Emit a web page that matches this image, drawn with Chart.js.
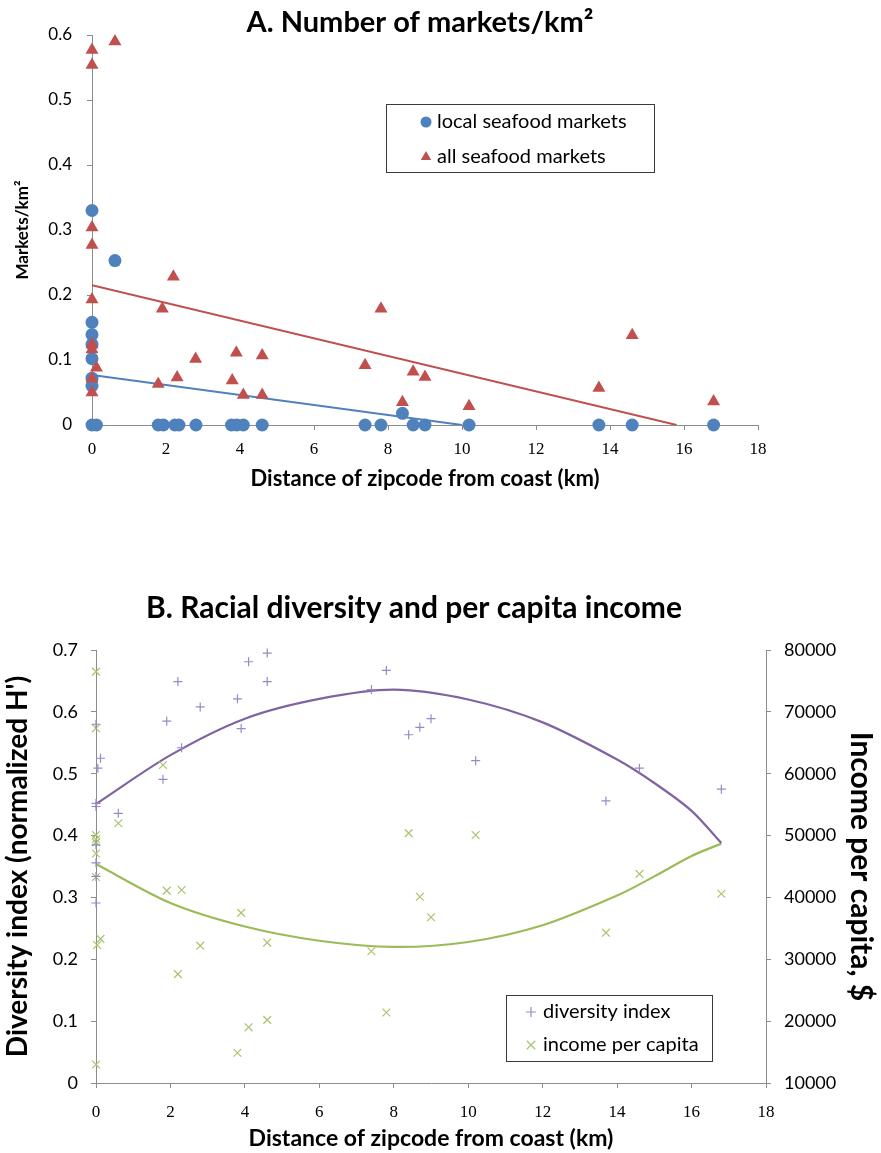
<!DOCTYPE html>
<html>
<head>
<meta charset="utf-8">
<script src="https://cdn.jsdelivr.net/npm/chart.js@4.4.1/dist/chart.umd.min.js"></script>
<style>
  html, body { margin: 0; padding: 0; background: #fff; }
  #wrapA { position: absolute; left: 0; top: 0; }
  #wrapB { position: absolute; left: 0; top: 580px; }
</style>
</head>
<body>
<div id="wrapA"><canvas id="chartA" width="881" height="500"></canvas></div>
<div id="wrapB"><canvas id="chartB" width="881" height="573"></canvas></div>
<script>
// ---- A. markets per km2 ----
const localDist = [0, 0, 0, 0, 0, 0, 0, 0, 0.12, 0.62, 1.79, 1.93, 2.24, 2.35, 2.81, 3.77, 3.91, 4.09, 4.6, 7.38, 7.81, 8.39, 8.68, 9.0, 10.19, 13.7, 14.6, 16.8];
const localMarkets = [0.33, 0.158, 0.139, 0.124, 0.102, 0.072, 0.06, 0, 0, 0.253, 0, 0, 0, 0, 0, 0, 0, 0, 0, 0, 0, 0.018, 0, 0, 0, 0, 0, 0];
const allDist = [0, 0, 0, 0, 0, 0, 0, 0, 0, 0.12, 0.62, 1.79, 1.9, 2.2, 2.3, 2.8, 3.79, 3.9, 4.09, 4.6, 4.6, 7.38, 7.81, 8.39, 8.68, 9.0, 10.19, 13.7, 14.6, 16.8];
const allMarkets = [0.577, 0.554, 0.304, 0.277, 0.193, 0.124, 0.116, 0.071, 0.05, 0.088, 0.59, 0.063, 0.179, 0.228, 0.073, 0.1015, 0.0685, 0.111, 0.046, 0.107, 0.046, 0.092, 0.179, 0.035, 0.082, 0.074, 0.029, 0.057, 0.138, 0.036];
// trend lines (end points)
const trendLocalDist = [0, 10.0];
const trendLocal = [0.077, 0];
const trendAllDist = [0, 15.8];
const trendAll = [0.215, 0];

// ---- B. diversity and income ----
const divDist = [0, 0.05, 0.12, 0, 0, 0, 0, 0, 0, 0.6, 1.8, 1.9, 2.2, 2.3, 2.8, 3.8, 3.9, 4.1, 4.6, 4.6, 7.4, 7.8, 8.4, 8.7, 9.0, 10.2, 13.7, 14.6, 16.8];
const divIndex = [0.58, 0.509, 0.525, 0.452, 0.447, 0.385, 0.356, 0.334, 0.291, 0.436, 0.491, 0.585, 0.649, 0.542, 0.608, 0.621, 0.573, 0.681, 0.695, 0.649, 0.636, 0.667, 0.563, 0.575, 0.589, 0.521, 0.456, 0.509, 0.475];
const incDist = [0, 0, 0, 0, 0, 0, 0, 0.12, 0.03, 0, 0.6, 1.8, 1.9, 2.2, 2.3, 2.8, 3.8, 3.9, 4.1, 4.6, 4.6, 7.4, 7.8, 8.4, 8.7, 9.0, 10.2, 13.7, 14.6, 16.8];
const income = [76500, 67350, 50100, 49400, 48900, 47100, 43300, 33300, 32300, 13000, 52000, 61400, 41100, 27600, 41200, 32200, 14900, 37500, 19000, 20200, 32700, 31300, 21400, 50400, 40100, 36800, 50100, 34300, 43800, 40600];
// trend curves at several distances
const trendDist = [0, 2, 4, 6, 8, 10, 12, 14, 15, 16, 16.8];
const divTrend = [0.451, 0.530, 0.589, 0.621, 0.636, 0.620, 0.583, 0.523, 0.485, 0.440, 0.388];
const incTrend = [45400, 39100, 35300, 33000, 32000, 32800, 35500, 40300, 43400, 46700, 48700];

const blue = '#4F81BD', red = '#C0504D';
const purple = '#8064A2', purpleMark = '#9A88C6';
const green = '#9BBB59', greenMark = '#A8C46E';
const axisGrey = '#8C8C8C';
const sans = 'Lato, "Liberation Sans", sans-serif';
const serif = '"Liberation Serif", serif';

const pts = (xs, ys) => xs.map((x, i) => ({ x: x, y: ys[i] }));

// chart title + boxed legend, drawn after the chart
const overlay = {
  id: 'overlay',
  afterDraw(chart, args, o) {
    const ctx = chart.ctx;
    ctx.save();
    ctx.fillStyle = '#000';
    ctx.font = 'bold ' + o.titleSize + 'px ' + sans;
    ctx.textAlign = 'center';
    ctx.textBaseline = 'middle';
    ctx.fillText(o.title, o.titleX, o.titleY);
    ctx.strokeStyle = '#3a3a3a';
    ctx.lineWidth = 1;
    ctx.strokeRect(o.box[0] + 0.5, o.box[1] + 0.5, o.box[2], o.box[3]);
    ctx.font = '20px ' + sans;
    ctx.textAlign = 'left';
    o.items.forEach(it => {
      const ds = chart.data.datasets[it.ds];
      ctx.fillStyle = ds.backgroundColor;
      ctx.strokeStyle = ds.borderColor;
      ctx.lineWidth = ds.borderWidth;
      Chart.helpers.drawPoint(ctx, { pointStyle: ds.pointStyle, radius: it.r, rotation: 0, borderWidth: ds.borderWidth }, it.mx, it.y);
      ctx.fillStyle = '#000';
      ctx.fillText(ds.label, it.tx, it.y);
    });
    ctx.restore();
  }
};

function axis(extra) {
  return Object.assign({
    type: 'linear',
    grid: { drawOnChartArea: false, drawTicks: true, tickLength: 5, color: axisGrey },
    border: { color: axisGrey, width: 1 }
  }, extra);
}

new Chart(document.getElementById('chartA'), {
  type: 'scatter',
  data: {
    datasets: [
      { label: 'local seafood markets', data: pts(localDist, localMarkets), pointStyle: 'circle', pointRadius: 6.5,
        backgroundColor: blue, borderColor: blue, borderWidth: 0, order: 1, clip: false },
      { label: 'all seafood markets', data: pts(allDist, allMarkets), pointStyle: 'triangle', pointRadius: 7.5,
        backgroundColor: red, borderColor: red, borderWidth: 0, order: 0, clip: false },
      { label: 'trend local', data: pts(trendLocalDist, trendLocal), showLine: true, pointRadius: 0,
        borderColor: blue, backgroundColor: blue, borderWidth: 2, order: 2 },
      { label: 'trend all', data: pts(trendAllDist, trendAll), showLine: true, pointRadius: 0,
        borderColor: red, backgroundColor: red, borderWidth: 2, order: 3 }
    ]
  },
  options: {
    responsive: false,
    animation: false,
    devicePixelRatio: 1,
    layout: { padding: { top: 35, right: 123, left: 0, bottom: 0 } },
    plugins: {
      legend: { display: false },
      tooltip: { enabled: false },
      overlay: {
        title: 'A. Number of markets/km\u00B2', titleX: 420, titleY: 23, titleSize: 29,
        box: [386, 104, 268, 68],
        items: [
          { ds: 0, r: 5.5, mx: 426, tx: 437, y: 122 },
          { ds: 1, r: 6, mx: 426, tx: 437, y: 157 }
        ]
      }
    },
    scales: {
      x: axis({
        min: 0, max: 18,
        afterFit: s => { s.height = 75; },
        ticks: { stepSize: 2, color: '#000', padding: 9, maxRotation: 0, font: { family: serif, size: 17 } },
        title: { display: true, text: 'Distance of zipcode from coast (km)', color: '#000',
                 font: { family: sans, weight: 'bold', size: 22 }, padding: { top: 0, bottom: 8 } }
      }),
      y: axis({
        min: 0, max: 0.6,
        afterFit: s => { s.width = 92; },
        ticks: { stepSize: 0.1, color: '#000', padding: 15, font: { family: sans, size: 17 },
                 callback: v => v === 0 ? '0' : v.toFixed(1) },
        title: { display: true, text: 'Markets/km\u00B2', color: '#000',
                 font: { family: sans, weight: 'bold', size: 17 }, padding: { top: 12, bottom: 0 } }
      })
    }
  },
  plugins: [overlay]
});

new Chart(document.getElementById('chartB'), {
  type: 'scatter',
  data: {
    datasets: [
      { label: 'diversity index', data: pts(divDist, divIndex), yAxisID: 'y', pointStyle: 'cross', pointRadius: 4.5,
        backgroundColor: purpleMark, borderColor: purpleMark, borderWidth: 1.2, order: 0, clip: false },
      { label: 'income per capita', data: pts(incDist, income), yAxisID: 'y2', pointStyle: 'crossRot', pointRadius: 5.5,
        backgroundColor: greenMark, borderColor: greenMark, borderWidth: 1.2, order: 1, clip: false },
      { label: 'trend diversity', data: pts(trendDist, divTrend), yAxisID: 'y', showLine: true, pointRadius: 0,
        tension: 0.3, borderColor: purple, backgroundColor: purple, borderWidth: 2.2, order: 2 },
      { label: 'trend income', data: pts(trendDist, incTrend), yAxisID: 'y2', showLine: true, pointRadius: 0,
        tension: 0.3, borderColor: green, backgroundColor: green, borderWidth: 2.2, order: 3 }
    ]
  },
  options: {
    responsive: false,
    animation: false,
    devicePixelRatio: 1,
    layout: { padding: { top: 70, right: 0, left: 0, bottom: 0 } },
    plugins: {
      legend: { display: false },
      tooltip: { enabled: false },
      overlay: {
        title: 'B. Racial diversity and per capita income', titleX: 414, titleY: 28, titleSize: 30,
        box: [506, 415, 206, 66],
        items: [
          { ds: 0, r: 5, mx: 531, tx: 543, y: 432 },
          { ds: 1, r: 6, mx: 531, tx: 543, y: 465 }
        ]
      }
    },
    scales: {
      x: axis({
        min: 0, max: 18,
        afterFit: s => { s.height = 70; },
        ticks: { stepSize: 2, color: '#000', padding: 14, maxRotation: 0, font: { family: serif, size: 17 } },
        title: { display: true, text: 'Distance of zipcode from coast (km)', color: '#000',
                 font: { family: sans, weight: 'bold', size: 23 }, padding: { top: 0, bottom: 1 } }
      }),
      y: axis({
        position: 'left',
        min: 0, max: 0.7,
        afterFit: s => { s.width = 96; },
        ticks: { stepSize: 0.1, color: '#000', padding: 13, font: { family: sans, size: 18 },
                 callback: v => v === 0 ? '0' : v.toFixed(1) },
        title: { display: true, text: "Diversity index (normalized H')", color: '#000',
                 font: { family: sans, weight: 'bold', size: 28 }, padding: { top: 1, bottom: 0 } }
      }),
      y2: axis({
        position: 'right',
        min: 10000, max: 80000,
        afterFit: s => { s.width = 115; },
        ticks: { stepSize: 10000, color: '#000', padding: 13, font: { family: sans, size: 18 },
                 callback: v => String(v) },
        title: { display: true, text: 'Income per capita, $', color: '#000',
                 font: { family: sans, weight: 'bold', size: 30 }, padding: { top: 2, bottom: 0 } }
      })
    }
  },
  plugins: [overlay]
});
</script>
</body>
</html>
